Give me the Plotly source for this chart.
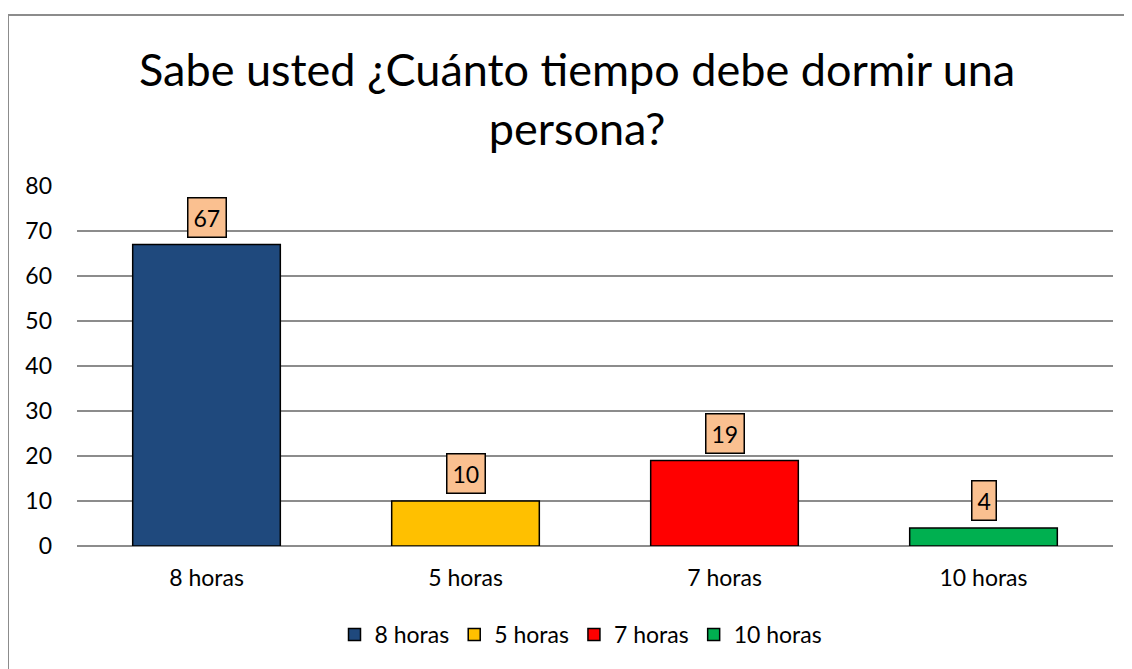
import plotly.graph_objects as go

categories = ["8 horas", "5 horas", "7 horas", "10 horas"]
values = [67, 10, 19, 4]
colors = ["#1F497D", "#FFC000", "#FF0000", "#00B050"]
y_ticks = [0, 10, 20, 30, 40, 50, 60, 70, 80]
title_text = "Sabe usted ¿Cuánto tiempo debe dormir una<br>persona?"

FONT = "Lato"
OFF = 8  # page body margin offset

W, H = 1132, 669
# reference pixel positions of the plot area
RL, RR, RT, RB = 77, 1113, 186, 546
L = RL - OFF
T = RT - OFF
R = W - (RR - OFF)
B = H - (RB - OFF)
pw, ph = W - L - R, H - T - B


def px_x(p):
    return (p - OFF - L) / pw


def px_y(p):
    return (RB - p) / ph


fig = go.Figure()
for cat, val, col in zip(categories, values, colors):
    fig.add_trace(go.Bar(
        x=[cat], y=[val], name=cat, width=0.57,
        marker=dict(color=col, line=dict(color="#000000", width=1.5)),
    ))
    fig.add_annotation(
        x=cat, y=val, text=str(val), showarrow=False,
        yanchor="bottom", yshift=7,
        font=dict(family=FONT, size=23, color="#000000"),
        bgcolor="#FAC090", bordercolor="#000000", borderwidth=1.5, borderpad=5,
    )

fig.add_annotation(
    text=title_text, xref="paper", yref="paper",
    x=px_x(577), y=px_y(40), xanchor="center", yanchor="top",
    showarrow=False, align="center",
    font=dict(family=FONT, size=45, color="#000000"),
)

fig.add_shape(type="rect", xref="paper", yref="paper",
              x0=px_x(8), x1=px_x(1150), y0=px_y(700), y1=px_y(15),
              line=dict(color="#8C8C8C", width=2), fillcolor="rgba(0,0,0,0)", layer="below")

fig.update_layout(
    width=W, height=H,
    margin=dict(l=L, r=R, t=T, b=B),
    paper_bgcolor="white", plot_bgcolor="white",
    barmode="overlay",
    xaxis=dict(categoryorder="array", categoryarray=categories,
               tickfont=dict(family=FONT, size=23, color="#000000"),
               showline=False, showgrid=False, ticks="", ticklabelstandoff=16),
    yaxis=dict(range=[0, 80], tickvals=y_ticks, showgrid=True,
               gridcolor="#8C8C8C", gridwidth=1.5, zeroline=True,
               zerolinecolor="#8C8C8C", zerolinewidth=1.5,
               tickfont=dict(family=FONT, size=23, color="#000000"),
               ticks="", ticklabelstandoff=24),
    legend=dict(orientation="h", x=px_x(581), xanchor="center",
                y=px_y(613), yanchor="top",
                font=dict(family=FONT, size=23, color="#000000"),
                itemwidth=30, traceorder="normal"),
    showlegend=True,
)

fig.write_html("out.html")
